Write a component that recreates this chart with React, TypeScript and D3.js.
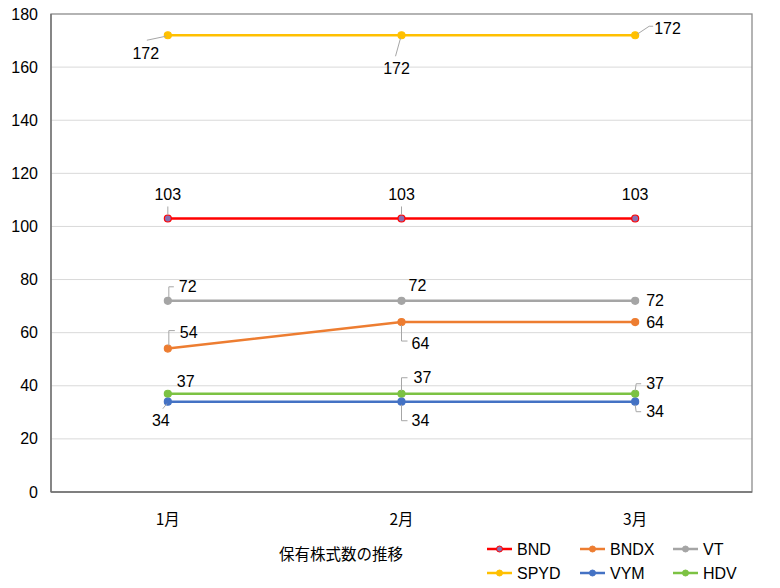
import React from "react";
import * as d3 from "d3";

const months = ["1月", "2月", "3月"];
const seriesNames = ["BND", "SPYD", "BNDX", "VYM", "VT", "HDV"];
const bnd = [103, 103, 103];
const spyd = [172, 172, 172];
const bndx = [54, 64, 64];
const vym = [34, 34, 34];
const vt = [72, 72, 72];
const hdv = [37, 37, 37];
const yTicks = [0, 20, 40, 60, 80, 100, 120, 140, 160, 180];
const title = "保有株式数の推移";

const colors: Record<string, string> = {
  BND: "#FF0000",
  SPYD: "#FFC000",
  BNDX: "#ED7D31",
  VYM: "#4472C4",
  VT: "#A5A5A5",
  HDV: "#7CC243",
};

const values: Record<string, number[]> = { BND: bnd, SPYD: spyd, BNDX: bndx, VYM: vym, VT: vt, HDV: hdv };

// label placement: [dx, dy, anchor, leader points relative to marker]
type LP = { dx: number; dy: number; anchor: string; leader?: [number, number][] };
const labelPlacement: Record<string, LP[]> = {
  SPYD: [
    { dx: -22, dy: 18, anchor: "middle", leader: [[-2, 1], [-21, 5]] },
    { dx: -5, dy: 33, anchor: "middle", leader: [[-1, 3], [-6, 21]] },
    { dx: 19, dy: -7, anchor: "start", leader: [[2, -1], [14, -9], [18, -9]] },
  ],
  BND: [
    { dx: 0, dy: -24, anchor: "middle", leader: [[0, -4], [0, -12]] },
    { dx: 0, dy: -24, anchor: "middle", leader: [[0, -4], [0, -12]] },
    { dx: 0, dy: -24, anchor: "middle" },
  ],
  VT: [
    { dx: 11, dy: -14, anchor: "start", leader: [[1, -3], [1, -14], [6, -14]] },
    { dx: 7, dy: -15, anchor: "start" },
    { dx: 11, dy: 0, anchor: "start" },
  ],
  BNDX: [
    { dx: 12, dy: -16, anchor: "start", leader: [[1, -3], [1, -18], [7, -18]] },
    { dx: 10, dy: 21, anchor: "start", leader: [[0, 3], [0, 19], [6, 19]] },
    { dx: 11, dy: 0, anchor: "start" },
  ],
  HDV: [
    { dx: 9, dy: -12, anchor: "start" },
    { dx: 12, dy: -16, anchor: "start", leader: [[0, -3], [0, -16], [6, -16]] },
    { dx: 11, dy: -10, anchor: "start", leader: [[0, -3], [1, -10], [6, -10]] },
  ],
  VYM: [
    { dx: -7, dy: 19, anchor: "middle", leader: [[-1, 2], [-5, 7]] },
    { dx: 10, dy: 19, anchor: "start", leader: [[0, 3], [0, 19], [6, 19]] },
    { dx: 11, dy: 10, anchor: "start", leader: [[0, 3], [1, 10], [6, 10]] },
  ],
};

const legendOrder = [["BND", "BNDX", "VT"], ["SPYD", "VYM", "HDV"]];

const W = 780, H = 588;
const plot = { left: 51, right: 752, top: 14, bottom: 492 };
const font = "'Liberation Sans', 'Noto Sans', sans-serif";
const cjk = "'Noto Sans CJK JP', sans-serif";
const fs = 16;

export default function App() {
  const x = d3.scalePoint<string>().domain(months).range([plot.left, plot.right]).padding(0.5);
  const y = d3.scaleLinear().domain([0, 180]).range([plot.bottom, plot.top]);
  const line = d3.line<number>().x((_, i) => x(months[i])!).y((d) => y(d));
  const drawOrder = ["VT", "BNDX", "HDV", "VYM", "BND", "SPYD"];

  return (
    <svg width={W} height={H} style={{ position: "absolute", left: 0, top: 0 }}>
      <rect x={0} y={0} width={W} height={H} fill="#fff" />
      {yTicks.map((t) => (
        <g key={t}>
          {t > 0 && t < 180 && (
            <line x1={plot.left} x2={plot.right} y1={y(t)} y2={y(t)} stroke="#d9d9d9" strokeWidth={1} />
          )}
          <text x={38} y={y(t)} textAnchor="end" dominantBaseline="central" fontFamily={font} fontSize={fs} fill="#000">
            {t}
          </text>
        </g>
      ))}
      <rect x={plot.left} y={plot.top} width={plot.right - plot.left} height={plot.bottom - plot.top} fill="none" stroke="#8c8c8c" strokeWidth={1.3} />
      <line x1={plot.left} x2={plot.right} y1={plot.bottom} y2={plot.bottom} stroke="#6e6e6e" strokeWidth={1.3} />
      <line x1={plot.left} x2={plot.left} y1={plot.top} y2={plot.bottom} stroke="#6e6e6e" strokeWidth={1.3} />
      {months.map((m) => (
        <text key={m} x={x(m)} y={518} textAnchor="middle" dominantBaseline="central" fontFamily={cjk} fontSize={15.5} fill="#000">
          {m}
        </text>
      ))}
      {drawOrder.map((s) => (
        <g key={s}>
          <path d={line(values[s])!} fill="none" stroke={colors[s]} strokeWidth={2.5} />
          {values[s].map((v, i) => (
            <circle key={i} cx={x(months[i])} cy={y(v)} r={3.5} fill={s === "BND" ? "#8a6fb0" : colors[s]} stroke={colors[s]} strokeWidth={1.2} />
          ))}
        </g>
      ))}
      {seriesNames.map((s) =>
        values[s].map((v, i) => {
          const px = x(months[i])!;
          const py = y(v);
          const lp = labelPlacement[s][i];
          return (
            <g key={s + i}>
              {lp.leader && (
                <polyline
                  points={lp.leader.map(([a, b]) => `${px + a},${py + b}`).join(" ")}
                  fill="none"
                  stroke="#a6a6a6"
                  strokeWidth={1}
                />
              )}
              <text x={px + lp.dx} y={py + lp.dy} textAnchor={lp.anchor as any} dominantBaseline="central" fontFamily={font} fontSize={fs} fill="#000">
                {v}
              </text>
            </g>
          );
        })
      )}
      <text x={279} y={553} dominantBaseline="central" fontFamily={cjk} fontSize={15.5} fill="#000">
        {title}
      </text>
      {legendOrder.map((row, r) =>
        row.map((s, c) => {
          const lx = 487 + c * 93;
          const ly = 549 + r * 24;
          return (
            <g key={s}>
              <line x1={lx} x2={lx + 25} y1={ly} y2={ly} stroke={colors[s]} strokeWidth={2.5} />
              <circle cx={lx + 12.5} cy={ly} r={3} fill={s === "BND" ? "#8a6fb0" : colors[s]} stroke={colors[s]} strokeWidth={1} />
              <text x={lx + 30} y={ly} dominantBaseline="central" fontFamily={font} fontSize={fs} fill="#000">
                {s}
              </text>
            </g>
          );
        })
      )}
    </svg>
  );
}
